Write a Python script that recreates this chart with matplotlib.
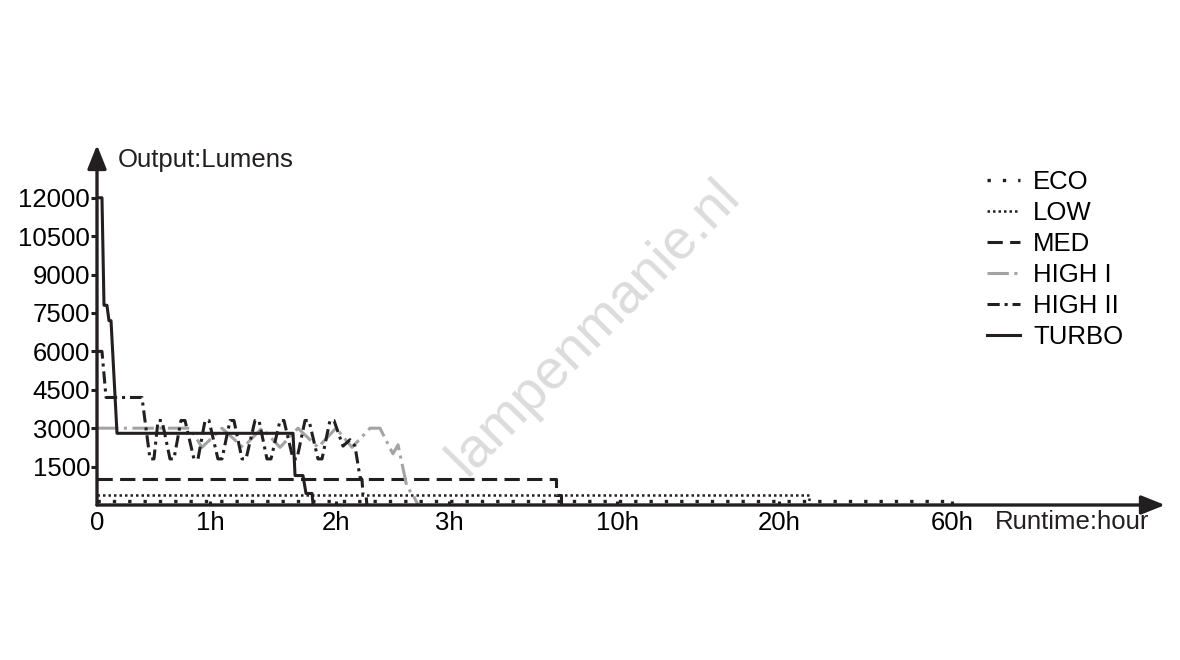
import numpy as np
import matplotlib
matplotlib.use('Agg')
import matplotlib.pyplot as plt

plt.rcParams['font.family'] = ['Liberation Sans', 'DejaVu Sans']

#%% datos (horas, lumenes)
eco_h = [0, 60, 60]
eco_lm = [150, 150, 0]

low_h = [0, 26.9, 26.9]
low_lm = [400, 400, 0]

med_h = [0, 7.45, 7.45, 7.65, 7.65]
med_lm = [1000, 1000, 400, 400, 0]

high1_h = [0, 0.823, 0.929, 1.095, 1.262, 1.413, 1.556, 1.698, 1.857, 2.0,
           2.142, 2.301, 2.389, 2.504, 2.549, 2.628, 2.681, 2.726]
high1_lm = [3000, 3000, 2250, 3000, 2250, 3000, 2250, 3000, 2250, 3000,
            2250, 3000, 3000, 2000, 2350, 700, 400, 0]

high2_h = [0, 0.044, 0.080, 0.398, 0.469, 0.504, 0.540, 0.575, 0.646, 0.681,
           0.743, 0.779, 0.858, 0.894, 0.956, 0.991, 1.063, 1.095, 1.159, 1.190,
           1.254, 1.286, 1.357, 1.389, 1.452, 1.484, 1.556, 1.587, 1.659, 1.690,
           1.754, 1.786, 1.857, 1.889, 1.952, 1.984, 2.062, 2.124, 2.168, 2.212,
           2.230, 2.239, 2.265, 2.274]
high2_lm = [6000, 6000, 4200, 4200, 1800, 1800, 3300, 3300, 1800, 1800,
            3300, 3300, 1800, 1800, 3300, 3300, 1800, 1800, 3300, 3300,
            1800, 1800, 3300, 3300, 1800, 1800, 3300, 3300, 1800, 1800,
            3300, 3300, 1800, 1800, 3300, 3300, 2300, 2550, 2300, 1100,
            1000, 400, 400, 0]

turbo_h = [0, 0.044, 0.062, 0.088, 0.106, 0.124, 0.177, 1.659, 1.675, 1.738,
           1.762, 1.810, 1.818]
turbo_lm = [12000, 12000, 7800, 7800, 7200, 7200, 2800, 2800, 1150, 1150,
            450, 450, 0]

x_ticks = [0, 1, 2, 3, 10, 20, 60]
x_labels = ['0', '1h', '2h', '3h', '10h', '20h', '60h']
y_ticks = [1500, 3000, 4500, 6000, 7500, 9000, 10500, 12000]

#%% escala no lineal del eje x (tramos)
esc_h = [0, 1, 2, 3, 10, 20, 60, 109.2]
esc_p = [0, 113, 239, 352, 520, 682, 855, 1068]

def fwd(h):
    return np.interp(h, esc_h, esc_p)

def inv(p):
    return np.interp(p, esc_p, esc_h)

#%% grafico
negro = '#231f20'
lw = 2.2
fs = 18.5

fig = plt.figure(figsize=(11.8, 6.6), dpi=100)
ax = fig.add_axes([97/1180, 1 - 505/660, (1165 - 97)/1180, (505 - 145)/660])
ax.set_xscale('function', functions=(fwd, inv))
ax.set_xlim(0, 109.2)
ax.set_ylim(0, 14060)

# marca de agua
fig.text(594/1180, 1 - 328/660, 'lampenmanie.nl', fontsize=40, color='#dcdcdc',
         rotation=45.5, ha='center', va='center', zorder=0)

ax.plot(eco_h, eco_lm, color=negro, lw=2.4, ls=(0, (1, 3.6)), label='ECO')
ax.plot(low_h, low_lm, color=negro, lw=1.8, ls=(0, (1, 1.2)), label='LOW')
ax.plot(med_h, med_lm, color=negro, lw=lw, ls=(0, (5, 2.4)), label='MED')
ax.plot(high1_h, high1_lm, color='#a3a3a3', lw=lw, ls=(0, (7, 1.8, 1, 1.8)), label='HIGH I')
ax.plot(high2_h, high2_lm, color=negro, lw=lw, ls=(0, (4, 1.6, 1, 1.6)), label='HIGH II')
ax.plot(turbo_h, turbo_lm, color=negro, lw=lw, label='TURBO')

for s in ax.spines.values():
    s.set_visible(False)

# ejes con flecha
flecha = dict(arrowstyle='-|>,head_length=0.8,head_width=0.32', mutation_scale=18,
              color=negro, lw=2.4, shrinkA=0, shrinkB=0)
ax.annotate('', xy=(0, 1), xytext=(0, 0), xycoords='axes fraction', arrowprops=flecha)
ax.annotate('', xy=(1, 0), xytext=(0, 0), xycoords='axes fraction', arrowprops=flecha)

ax.set_xticks(x_ticks)
ax.set_xticklabels(x_labels)
ax.set_yticks(y_ticks)
ax.minorticks_off()
ax.tick_params(axis='y', direction='out', length=4, width=2.2, color=negro,
               labelsize=fs, pad=1)
ax.tick_params(axis='x', direction='in', length=3, width=2.2, color=negro,
               labelsize=fs, pad=4)

fig.text(118/1180, 1 - 160/660, 'Output:Lumens', fontsize=fs, va='center', color=negro)
fig.text(995/1180, 1 - 522/660, 'Runtime:hour', fontsize=fs, va='center', color=negro)

ax.legend(loc='upper left', bbox_to_anchor=(987/1180, 1 - 170/660),
          bbox_transform=fig.transFigure, frameon=False, fontsize=fs,
          handlelength=1.3, handletextpad=0.5, labelspacing=0.27, borderpad=0,
          borderaxespad=0)

fig.savefig('out.png', dpi=100)
